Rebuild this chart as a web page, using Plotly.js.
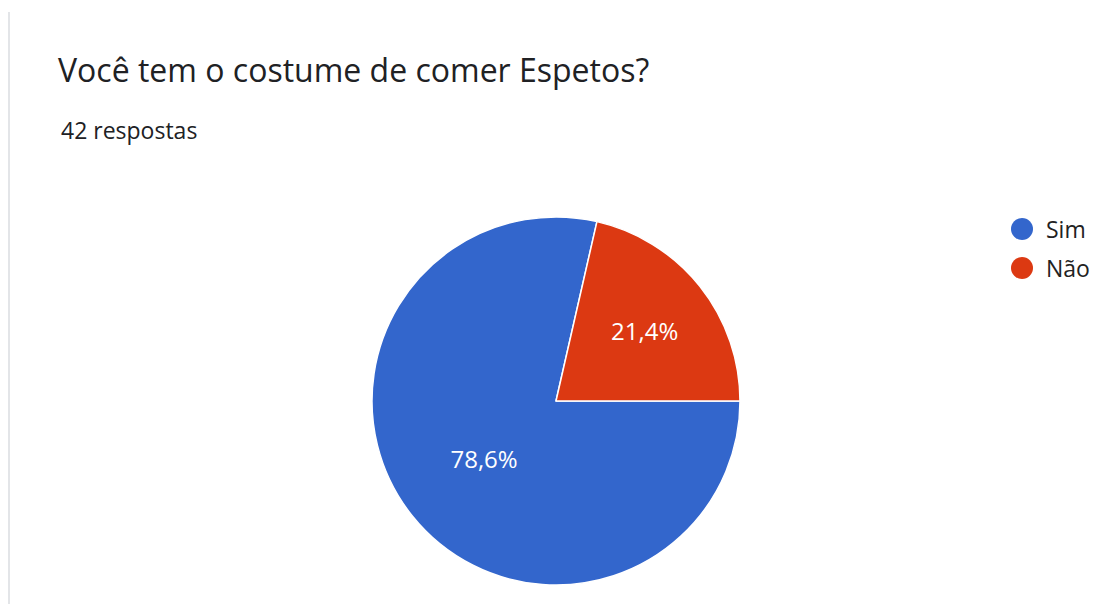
<!DOCTYPE html>
<html><head><meta charset="utf-8">
<script src="https://cdn.plot.ly/plotly-3.0.1.min.js"></script>
<style>html,body{margin:0;padding:0;background:#fff;}#chart{width:1094px;height:604px;}</style>
</head><body><div id="chart"></div>
<script>
var labels = ["Sim", "Não"];
var counts = [33, 9];
var colors = ["#3366CC", "#DC3912"];
var titleText = "Você tem o costume de comer Espetos?";
var subtitleText = "42 respostas";

var W = 1094, H = 604;
var FONT = "'Open Sans', Roboto, Arial, sans-serif";
var pie = {
  type: "pie",
  labels: labels,
  values: counts,
  sort: false,
  direction: "clockwise",
  rotation: 90,
  marker: {colors: colors, line: {color: "#ffffff", width: 1.5}},
  textinfo: "percent",
  texttemplate: "%{percent:.1%}",
  textposition: "inside",
  insidetextorientation: "horizontal",
  textfont: {family: FONT, size: 24, color: "#ffffff"},
  hoverinfo: "label+value+percent",
  showlegend: false,
  domain: {x: [372 / W, 740 / W], y: [19 / H, 387 / H]}
};

var shapes = [{type: "line", xref: "paper", yref: "paper", x0: 9 / W, x1: 9 / W, y0: 0, y1: 1 - 12 / H,
  line: {color: "#dadce0", width: 1.5}}];
var annotations = [{
  text: subtitleText, xref: "paper", yref: "paper", x: 59 / W, y: 1 - 130 / H,
  xanchor: "left", yanchor: "middle", showarrow: false,
  font: {family: FONT, size: 23, color: "#202124"}
}];
labels.forEach(function (lab, i) {
  var cy = 229 + i * 39;
  shapes.push({type: "circle", xref: "paper", yref: "paper",
    x0: (1011) / W, x1: (1033) / W, y0: 1 - (cy + 11) / H, y1: 1 - (cy - 11) / H,
    fillcolor: colors[i], line: {width: 0}});
  annotations.push({text: lab, xref: "paper", yref: "paper", x: 1044 / W, y: 1 - cy / H,
    xanchor: "left", yanchor: "middle", showarrow: false,
    font: {family: FONT, size: 23, color: "#222222"}});
});

var layout = {
  width: W, height: H,
  margin: {l: 0, r: 0, t: 0, b: 0},
  paper_bgcolor: "#ffffff",
  separators: ",.",
  showlegend: false,
  title: {text: titleText, x: 58 / W, xref: "paper", xanchor: "left", y: 1 - 71 / H, yref: "paper", yanchor: "middle",
    font: {family: FONT, size: 32, color: "#202124"}},
  shapes: shapes,
  annotations: annotations
};
Plotly.newPlot("chart", [pie], layout, {displayModeBar: false, staticPlot: true});
</script></body></html>
